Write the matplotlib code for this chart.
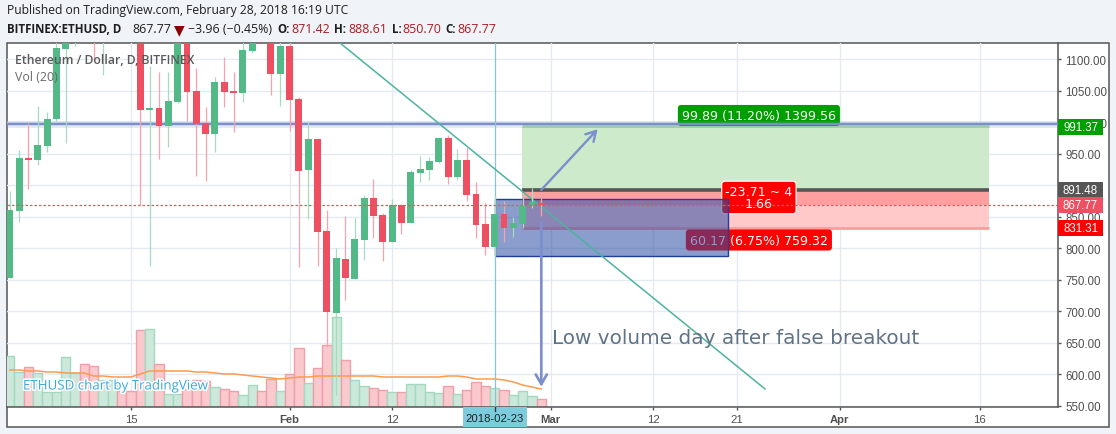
import matplotlib
matplotlib.use("Agg")
import numpy as np
import pandas as pd
import matplotlib.pyplot as plt
import matplotlib.dates as mdates
import matplotlib.patheffects as pe
from matplotlib.patches import Rectangle

# daily candles, Jan 2 - Feb 28 2018
dates = pd.date_range("2018-01-02", "2018-02-28")
opens = [752.6, 858.9, 943.0, 939.8, 962.0, 1004.8, 1115.9, 1150, 1280, 1240, 1160, 1250, 1270, 1230,
         1200, 1019.1, 1022.3, 993.7, 1031.8, 1140, 1049.3, 998.5, 981.0, 1063.5, 1049.3, 1046.1, 1112.7, 1190,
         1170, 1076.2, 1120.6, 1036.6, 923.9, 973.1, 827.2, 697.1, 782.8, 751.0, 812.9, 879.5, 852.6, 809.7,
         868.4, 839.9, 919.2, 923.9, 936.6, 974.7, 912.8, 939.8, 885.9, 838.3, 801.8, 854.1, 832.0, 838.3,
         866.8, 871.42]
closes = [860.5, 943.0, 939.8, 963.6, 1004.8, 1117.5, 1150, 1280, 1240, 1160, 1250, 1270, 1230, 1200,
          1019.1, 1022.3, 993.7, 1033.4, 1140, 1047.7, 996.9, 981.0, 1063.5, 1047.7, 1046.1, 1114.3, 1160, 1150,
          1076.2, 1120.6, 1035.0, 922.4, 973.1, 825.6, 698.7, 784.3, 752.6, 814.5, 879.5, 851.0, 809.7, 868.4,
          839.9, 920.8, 925.5, 938.2, 974.7, 912.8, 939.8, 884.3, 836.7, 801.8, 854.1, 832.0, 839.9, 866.8,
          873.2, 867.77]
highs = [890.6, 955.7, 998.5, 1025.5, 1015.9, 1150, 1180, 1300, 1350, 1290, 1290, 1340, 1300, 1280,
         1210, 1088.9, 1079.4, 1079.4, 1170, 1150, 1085.7, 1023.9, 1071.5, 1103.2, 1079.4, 1130, 1180, 1210,
         1190, 1150, 1130, 1039.7, 1000.0, 974.7, 860.5, 800.2, 851.0, 847.8, 884.3, 909.7, 855.7, 877.9,
         870.0, 923.9, 946.2, 944.6, 974.7, 979.5, 957.3, 960.4, 904.9, 871.6, 882.7, 874.8, 849.4, 887.5,
         895.0, 888.61]
lows = [752.6, 841.5, 893.8, 931.9, 952.5, 1000.0, 966.8, 1120.6, 1150, 1100, 1074.6, 1150, 1190, 1150,
        868.4, 771.7, 941.4, 960.4, 1030.2, 1001.7, 914.4, 906.5, 952.5, 1023.9, 984.2, 1031.8, 1109.5, 1130,
        1042.9, 1025.5, 985.8, 770.1, 846.2, 771.7, 643.2, 567.0, 717.7, 751.0, 781.2, 816.1, 779.6, 809.7,
        822.4, 839.9, 904.9, 908.1, 935.0, 901.7, 908.1, 874.8, 816.1, 789.1, 787.5, 809.7, 817.7, 832.0,
        863.7, 850.70]
volumes = [204, 140, 160, 136, 60, 60, 200, 136, 172, 164, 108, 108, 64, 64,
           308, 312, 172, 52, 52, 72, 108, 104, 80, 72, 64, 48, 88, 64,
           112, 64, 132, 236, 96, 156, 248, 360, 188, 108, 84, 76, 68, 60,
           60, 92, 92, 60, 56, 84, 52, 68, 100, 84, 76, 68, 48, 64, 44, 32]
vol_ma = [148, 148, 144, 144, 140, 140, 136, 136, 136, 124, 124, 120, 120, 120,
          132, 144, 144, 144, 144, 144, 140, 140, 136, 132, 132, 128, 124, 120, 116, 112,
          116, 120, 120, 124, 124, 124, 124, 124, 124, 124, 120, 120, 120, 120, 120, 120, 120, 124, 124, 120,
          112, 112, 112, 108, 100, 88, 80, 72]

price_ticks = [550, 600, 650, 700, 750, 800, 850, 900, 950, 1000, 1050, 1100]
date_ticks = ["2018-01-15", "2018-02-01", "2018-02-12", "2018-03-01", "2018-03-12",
              "2018-03-21", "2018-04-01", "2018-04-16"]
date_labels = ["15", "Feb", "12", "Mar", "12", "21", "Apr", "16"]

# drawings on the chart
resistance = 997
stop_price, entry_price, last_price, target_price = 831.31, 891.48, 867.77, 991.37
pos_start, pos_end = "2018-02-26", "2018-04-17"
range_start, range_end = "2018-02-23", "2018-03-20"
range_low, range_high = 787.5, 878.0
trend_dates = ["2018-02-06 10:00", "2018-03-24 00:00"]
trend_prices = [1125.4, 576.5]

RED, GREEN = "#EF5061", "#53B987"
RED_W, GREEN_W = "#F7A3AD", "#A6DBC0"
RED_V, GREEN_V = "#F9C9CE", "#CCE8DB"
RED_VE, GREEN_VE = "#EE9FA8", "#A3D9BD"
BLUE = "#7A8FCB"
TEXT = "#4F4F4F"
DARK = "#1E1E1E"
VAL = "#A81E22"


def num(s):
    return mdates.date2num(pd.Timestamp(s))


W, H = 1116, 435
L, R, T, B = 7, 1058, 44, 408
fig = plt.figure(figsize=(W / 100, H / 100), dpi=100, facecolor="#F0F3F7")
fig.add_artist(Rectangle((6.5 / W, 1 - 428 / H), 1102.5 / W, 384 / H, transform=fig.transFigure,
                         fc="white", ec="#555555", lw=1.1, zorder=-1))
ax = fig.add_axes([L / W, 1 - B / H, (R - L) / W, (B - T) / H], facecolor="none")

x = mdates.date2num(dates)
ax.set_xlim(x[0] - 0.3, x[0] + 112.41)
ymin, ymax = 548.0, 1125.4
ax.set_ylim(ymin, ymax)

for s in ["top", "left"]:
    ax.spines[s].set_visible(False)
for s in ["right", "bottom"]:
    ax.spines[s].set_color("#555555")
    ax.spines[s].set_linewidth(1.1)

# grid + axes
ax.set_axisbelow(True)
ax.yaxis.tick_right()
ax.set_yticks(price_ticks)
ax.set_yticklabels([f"{p:.2f}" for p in price_ticks], fontsize=8.3, color=TEXT, family="Liberation Sans")
ax.set_xticks(mdates.date2num(pd.to_datetime(date_ticks)))
ax.set_xticklabels(date_labels, fontsize=8.1, color=TEXT, family="Liberation Sans")
for lab, txt in zip(ax.get_xticklabels(), date_labels):
    if txt in ("Feb", "Mar", "Apr"):
        lab.set_fontweight("bold")
ax.tick_params(axis="both", length=2.5, width=1, color="#555555", pad=3)
ax.tick_params(axis="x", pad=2.5)
ax.grid(True, color="#E3EBF1", lw=1.0)

# volume pane shares the price axes, 1456 units = full height
vol_k = (ymax - ymin) / 1456
is_up = np.array(closes) >= np.array(opens)
ax.bar(x, np.array(volumes) * vol_k, width=1.0, bottom=ymin,
       color=[GREEN_V if u else RED_V for u in is_up],
       edgecolor=[GREEN_VE if u else RED_VE for u in is_up], lw=1.0, zorder=1)
ax.plot(x, ymin + np.array(vol_ma) * vol_k, color="#FF9A4D", lw=1.1, zorder=1.5)

# long / short position boxes
p0, p1 = num(pos_start) - 0.1, num(pos_end)
ax.add_patch(Rectangle((p0, entry_price), p1 - p0, target_price - entry_price, fc="#CDEBCB", ec="none", zorder=2))
ax.add_patch(Rectangle((p0, last_price), p1 - p0, entry_price - last_price, fc="#FFA0A0", ec="none", zorder=2))
ax.add_patch(Rectangle((p0, stop_price), p1 - p0, last_price - stop_price, fc="#FFC9C9", ec="none", zorder=2))
ax.hlines(target_price + 2, p0, p1, color="#A9DCA9", lw=2, zorder=2.1)
ax.hlines(stop_price, p0, p1, color="#FF9C9C", lw=2, zorder=2.1)
ax.hlines(entry_price, p0, p1, color="#555555", lw=2.6, zorder=2.2)

lab_font = dict(family="DejaVu Sans", color="white", ha="center", va="center", zorder=2.5)
lab_x = num("2018-03-23 08:00")
ax.text(lab_x, 1010.4, "99.89 (11.20%) 1399.56", fontsize=9.1, **lab_font,
        bbox=dict(boxstyle="round,pad=0.32,rounding_size=0.25", fc="#009E00", ec="none"))
ax.text(lab_x, 880.3, "-23.71 ~ 4\n1.66", fontsize=9.1, linespacing=0.95, **lab_font,
        bbox=dict(boxstyle="round,pad=0.28,rounding_size=0.25", fc="#FF0000", ec="white", lw=0.8))
ax.text(lab_x, 812.9, "60.17 (6.75%) 759.32", fontsize=9.1, **lab_font,
        bbox=dict(boxstyle="round,pad=0.32,rounding_size=0.25", fc="#FF0000", ec="none"))

# highlighted date range
r0, r1 = num(range_start), num(range_end)
ax.add_patch(Rectangle((r0, range_low), r1 - r0, range_high - range_low, fc=(0.165, 0.30, 0.64, 0.55),
                       ec="#1F3F99", lw=1.0, zorder=3))

ax.axhline(resistance, color="#7A8FCB", lw=5, alpha=0.2, zorder=3)
ax.axhline(resistance, color=BLUE, lw=1.7, zorder=3.1)
ax.axvline(r0, color="#86C5D4", lw=0.9, zorder=3.2)
ax.plot(mdates.date2num(pd.to_datetime(trend_dates)), trend_prices, color="#4DB39E", lw=1.1, zorder=3.5)

# candles
ax.vlines(x, lows, highs, colors=[GREEN_W if u else RED_W for u in is_up], lw=0.9, zorder=4)
ax.bar(x, np.abs(np.array(closes) - np.array(opens)), width=0.74, bottom=np.minimum(opens, closes),
       color=[GREEN if u else RED for u in is_up], zorder=4.1)

ax.axhline(last_price, color=RED, lw=0.9, ls=(0, (2, 1.6)), zorder=5)

# arrows
feb28 = x[-1]
ax.annotate("", xy=(num("2018-03-06 01:00"), 988.6), xytext=(feb28, 892.5),
            arrowprops=dict(arrowstyle="->,head_length=0.7,head_width=0.4", color=BLUE, lw=1.7, shrinkA=0, shrinkB=0), zorder=5)
ax.annotate("", xy=(feb28, 580), xytext=(feb28, 841),
            arrowprops=dict(arrowstyle="->,head_length=0.7,head_width=0.4", color=BLUE, lw=1.9, shrinkA=0, shrinkB=0), zorder=5)

ax.text(num("2018-03-01 03:00"), 659, "Low volume day after false breakout",
        fontsize=14.4, color="#5F7286", family="DejaVu Sans", ha="left", va="center", zorder=6)

# watermarks
ax.text(8 / (R - L), (B - 61) / (B - T), "Ethereum / Dollar, D, BITFINEX", transform=ax.transAxes, fontsize=8.8,
        color="#5A5A5A", family="Open Sans", fontweight="semibold", va="center", zorder=6)
ax.text(8 / (R - L), (B - 78) / (B - T), "Vol (20)", transform=ax.transAxes, fontsize=8.9,
        color="#6A6A6A", family="Open Sans", va="center", zorder=6)
ax.text(16 / (R - L), (B - 387) / (B - T), "ETHUSD chart by TradingView", transform=ax.transAxes, fontsize=9.6,
        color="#39A9DC", family="Open Sans", va="center", zorder=6,
        path_effects=[pe.withStroke(linewidth=2.2, foreground="white")])

# price tags on the axis
tag_w = (1103 - R) / (R - L)
tag_h = 16 * (ymax - ymin) / (B - T)
ytr = ax.get_yaxis_transform()
for price, col in [(target_price, "#00A000"), (entry_price, "#555555"), (last_price, RED), (stop_price, "#FF0000")]:
    ax.add_patch(Rectangle((1.0, price - tag_h / 2), tag_w, tag_h, transform=ytr, fc=col, ec="none", clip_on=False, zorder=20))
    ax.text(1.0 + tag_w / 2, price, f"{price:.2f}", transform=ytr, fontsize=8.3, color="white", ha="center", va="center",
            family="Liberation Sans", clip_on=False, zorder=21)

# crosshair date tag
days_per_px = 112.71 / (R - L)
xtr = ax.get_xaxis_transform()
ax.add_patch(Rectangle((r0 - 32 * days_per_px, -20 / (B - T)), 64 * days_per_px, 20 / (B - T), transform=xtr,
                       fc="#7DCCDD", ec="none", clip_on=False, zorder=20))
ax.plot([r0, r0], [0, -3.5 / (B - T)], transform=xtr, color="#333333", lw=1, clip_on=False, zorder=21)
ax.text(r0, -11 / (B - T), "2018-02-23", transform=xtr, fontsize=8.1, color="#222222", ha="center", va="center",
        family="Liberation Sans", clip_on=False, zorder=21)

# header
fig.text(7 / W, 1 - 10.5 / H, "Published on TradingView.com, February 28, 2018 16:19 UTC", fontsize=8.75,
         color=DARK, family="Open Sans", va="center")
hdr = [(7, "BITFINEX:ETHUSD, D", True, DARK), (132, "867.77", False, DARK), (188, "\u22123.96 (\u22120.45%)", False, DARK),
       (277, "O:", True, DARK), (291, "871.42", False, VAL), (334, "H:", True, DARK), (348, "888.61", False, VAL),
       (392, "L:", True, DARK), (402, "850.70", False, VAL), (445, "C:", True, DARK), (457, "867.77", False, VAL)]
for px, s, bold, col in hdr:
    fig.text(px / W, 1 - 29.5 / H, s, fontsize=8.3 if bold else 8.9, color=col, family="Open Sans",
             fontweight="bold" if bold else "normal", va="center")
fig.text(179 / W, 1 - 30 / H, "\u25BC", fontsize=10, color="#8B0000", family="DejaVu Sans", ha="center", va="center")

fig.savefig("out.png", dpi=100, facecolor=fig.get_facecolor())
